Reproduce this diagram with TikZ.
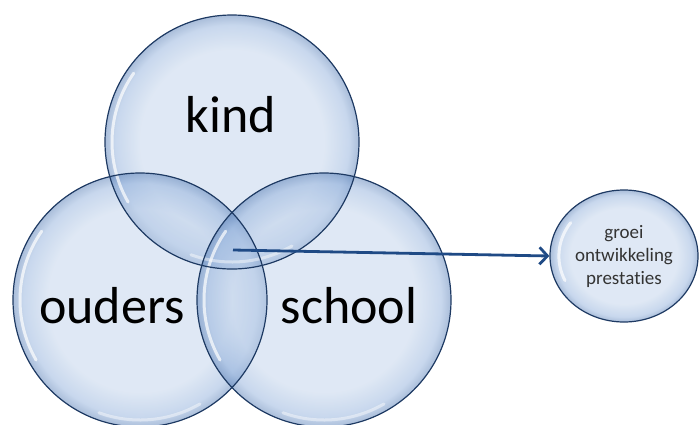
\documentclass[tikz,border=0pt]{standalone}
\usepackage{fontspec}
\setmainfont{Carlito}[Ligatures={NoCommon}]
\usetikzlibrary{shapes.geometric,arrows.meta}
\definecolor{bubin}{HTML}{BCCFE9}
\definecolor{bubmid}{HTML}{8AABD9}
\definecolor{bubout}{HTML}{4A74B0}
\definecolor{edgec}{HTML}{1E3A63}
\definecolor{arrowc}{HTML}{1F4A85}
\pgfdeclareradialshading{bubble}{\pgfpoint{0bp}{0bp}}{color(0bp)=(bubin); color(18bp)=(bubin); color(23bp)=(bubmid); color(25bp)=(bubout); color(50bp)=(bubout)}
\begin{document}
\begin{tikzpicture}[x=1pt,y=-1pt,
  bubblefill/.style={circle, inner sep=0pt, minimum size=254pt, shade, shading=bubble, fill opacity=0.47},
  rim/.style={draw=edgec, line width=1.2pt},
  shine/.style={white, line width=3pt, opacity=0.7, line cap=round},
  big/.style={font=\fontsize{52}{60}\selectfont, text=black, anchor=base, inner sep=0pt},
  small/.style={font=\fontsize{19}{23}\selectfont, align=center, text=black!80},
  arr/.style={draw=arrowc, line width=2.8pt, -{Straight Barb[length=8pt,width=17pt]}}]
\useasboundingbox (0,0) rectangle (699,424);
% fills
\node[bubblefill] (kind) at (232,142) {};
\node[bubblefill] (ouders) at (140,300) {};
\node[bubblefill] (school) at (324,300) {};
% highlights
\foreach \n in {kind,ouders,school}{
  \draw[shine, shift={(\n.center)}] (-145:120) arc[start angle=-145, end angle=-210, radius=120];
  \draw[shine, opacity=0.45, shift={(\n.center)}] (-250:120) arc[start angle=-250, end angle=-300, radius=120];
}
% rims
\foreach \n in {kind,ouders,school}{
  \draw[rim] (\n.center) circle[radius=127pt];
}
% labels
\node[big] (tkind) at (231,132) {kind};
\node[big] (touders) at (112,323) {ouders};
\node[big] (tschool) at (349,323) {school};
% result bubble
\node[ellipse, inner sep=0pt, minimum width=148pt, minimum height=132pt, shade, shading=bubble, fill opacity=0.47, text opacity=1, rim, small] (res) at (624,256) {groei\\ontwikkeling\\prestaties};
\draw[shine, shift={(res.center)}, x=0.93pt, y=-0.83pt] (-145:70) arc[start angle=-145, end angle=-205, radius=70];
% arrow
\coordinate (src) at (233,250);
\draw[arr] (src) -- (res.west);
\end{tikzpicture}
\end{document}
